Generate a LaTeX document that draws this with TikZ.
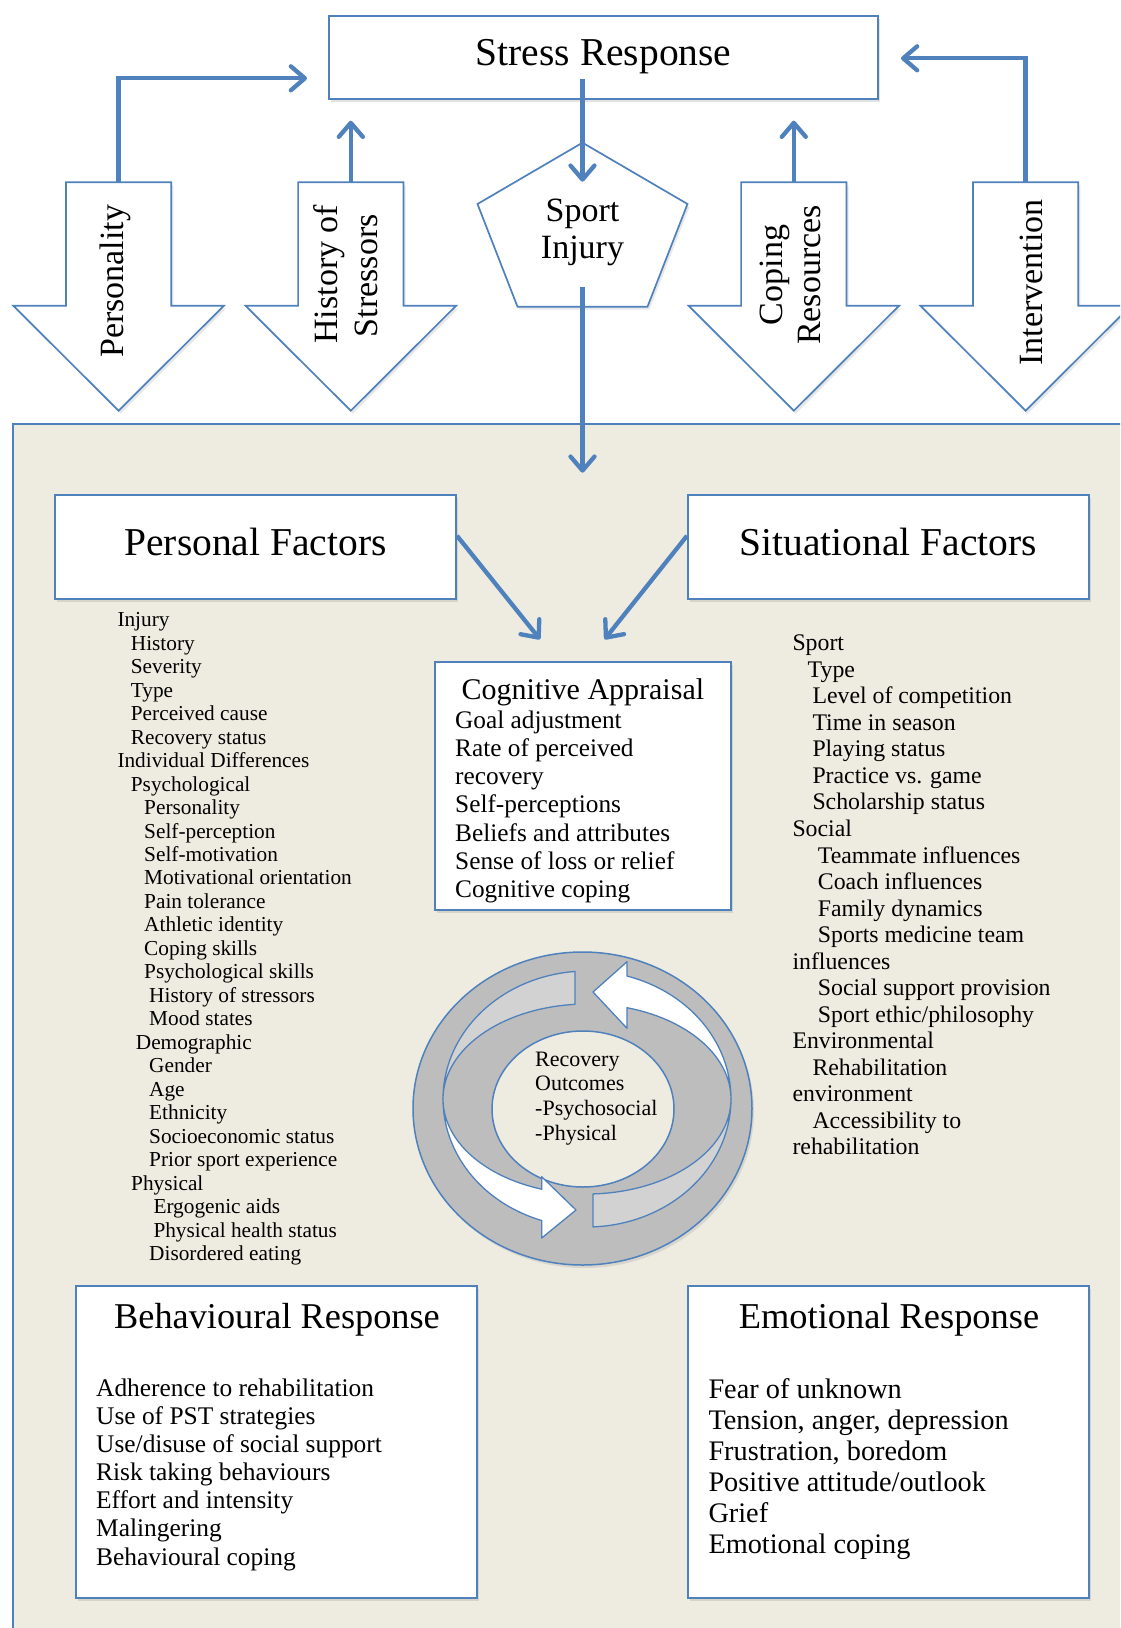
\documentclass[tikz,border=0pt]{standalone}
\usepackage{fontspec}
\setmainfont{Liberation Serif}
\usetikzlibrary{arrows.meta,shadows,calc,shapes.geometric}

\definecolor{lineblue}{HTML}{4F81BD}
\definecolor{panelbg}{HTML}{EEECE1}
\definecolor{ringgrey}{HTML}{BDBDBD}
\definecolor{ribbongrey}{HTML}{D2D2D2}

\begin{document}
\begin{tikzpicture}[x=1pt,y=-1pt,
  box/.style={draw=lineblue, line width=2pt, fill=white, inner sep=0pt,
    drop shadow={shadow xshift=2pt, shadow yshift=-3pt, opacity=0.22}},
  blockarrow/.style={draw=lineblue, line width=1.7pt, fill=white, line join=miter,
    drop shadow={shadow xshift=2pt, shadow yshift=-3pt, opacity=0.18}},
  conn/.style={draw=lineblue, line width=4.3pt, line join=miter,
    -{Straight Barb[length=14pt, width=24pt, round]}},
  ribbon/.style={draw=lineblue, line width=1.3pt, line join=round},
  txt/.style={inner sep=0pt, anchor=base west},
  rot/.style={inner sep=0pt, rotate=90, anchor=base, font=\fontsize{34}{40}\selectfont},
  ftitle/.style={font=\fontsize{39.5}{47}\selectfont},
  fleft/.style={font=\fontsize{21.3}{25}\selectfont},
  fright/.style={font=\fontsize{23.8}{28}\selectfont},
  fcog/.style={font=\fontsize{25.3}{30}\selectfont},
]
\clip (0,0) rectangle (1120,1628);
\fill[white] (0,0) rectangle (1120,1628);

% ---------- lower panel ----------
\draw[draw=lineblue, line width=2pt, fill=panelbg] (13,424) rectangle (1150,1660);

% ---------- stress response box ----------
\node[box, minimum width=549pt, minimum height=83.3pt] (stress) at (603.5,57.35) {};
\node[txt, anchor=base, ftitle] (stress-t) at (603.6,65) {Stress Response};

% ---------- block arrows ----------
\foreach \c/\n in {118.6/pers, 350.8/hist, 793.8/cope, 1025.6/inter}{
  \draw[blockarrow] ({\c-52.7},182.3) -- ({\c+52.7},182.3) -- ({\c+52.7},305.7)
     -- ({\c+105.3},305.7) -- (\c,410.7) -- ({\c-105.3},305.7) -- ({\c-52.7},305.7) -- cycle;
  \coordinate (\n-top) at (\c,182.3);
}
\node[rot] (pers-t) at (123.2,281.2) {Personality};
\node[rot] (hist-t1) at (337.5,274.2) {History of};
\node[rot] (hist-t2) at (377,275.8) {Stressors};
\node[rot] (cope-t1) at (782,275) {Coping};
\node[rot] (cope-t2) at (820.7,275) {Resources};
\node[rot] (inter-t) at (1042,282.5) {Intervention};

% ---------- sport injury pentagon ----------
\draw[blockarrow] (582.5,142.7) -- (687.5,204) -- (647.5,306.7) -- (517.5,306.7)
   -- (477.5,204) -- cycle;
\node[txt, anchor=base, font=\fontsize{34}{40}\selectfont] (inj-t1) at (582.5,221.7) {Sport};
\node[txt, anchor=base, font=\fontsize{34}{40}\selectfont] (inj-t2) at (582.5,258.3) {Injury};

% ---------- connector end points ----------
\coordinate (stress-inl) at (307,78.3);
\coordinate (stress-inr) at (901,58.3);
\coordinate (hist-up) at (350.8,120.7);
\coordinate (cope-up) at (793.8,120.7);
\coordinate (stress-out) at (582.5,79);
\coordinate (inj-in) at (582.5,181.7);
\coordinate (inj-out) at (582.5,287.3);
\coordinate (panel-in) at (582.5,472.7);

\draw[conn] (pers-top) |- (stress-inl);
\draw[conn] (hist-top) -- (hist-up);
\draw[conn] (cope-top) -- (cope-up);
\draw[conn] (inter-top) |- (stress-inr);
\draw[conn] (stress-out) -- (inj-in);
\draw[conn] (inj-out) -- (panel-in);

% ---------- factor boxes ----------
\node[box, minimum width=401pt, minimum height=104pt] (pf) at (255.5,547) {};
\node[txt, anchor=base, ftitle] (pf-t) at (255.5,555) {Personal Factors};
\node[box, minimum width=401pt, minimum height=104pt] (sf) at (888.5,547) {};
\node[txt, anchor=base, ftitle] (sf-t) at (888.3,555) {Situational Factors};

% ---------- cognitive appraisal ----------
\node[box, minimum width=295.7pt, minimum height=248.3pt] (cog) at (582.9,785.9) {};
\node[txt, anchor=base, font=\fontsize{30}{36}\selectfont] (cog-t) at (582.9,699) {Cognitive Appraisal};
\foreach \t [count=\i from 0] in {Goal adjustment, Rate of perceived, recovery,
    Self-perceptions, Beliefs and attributes, Sense of loss or relief, Cognitive coping}{
  \node[txt, fcog] (cg\i) at (455,{728+\i*28.3}) {\t};
}
\coordinate (cog-in1) at (540,639.3);
\coordinate (cog-in2) at (604.6,639.3);
\draw[conn] ($(pf.north east)!0.394!(pf.south east)$) -- (cog-in1);
\draw[conn] ($(sf.north west)!0.394!(sf.south west)$) -- (cog-in2);

% ---------- personal factor list ----------
\foreach \xx/\t [count=\i from 0] in {117.3/Injury, 130.7/History, 130.7/Severity,
    130.7/Type, 130.7/Perceived cause, 130.7/Recovery status,
    117.3/Individual Differences, 130.7/Psychological, 144/Personality,
    144/Self-perception, 144/Self-motivation, 144/Motivational orientation,
    144/Pain tolerance, 144/Athletic identity, 144/Coping skills,
    144/Psychological skills, 149/History of stressors, 149/Mood states,
    135.7/Demographic, 149/Gender, 149/Age, 149/Ethnicity,
    149/Socioeconomic status, 149/Prior sport experience, 131/Physical,
    153.3/Ergogenic aids, 153.3/Physical health status, 149/Disordered eating}{
  \node[txt, fleft] (pl\i) at (\xx,{626.7+\i*23.48}) {\t};
}

% ---------- situational factor list ----------
\foreach \xx/\t [count=\i from 0] in {792.3/Sport, 807.5/Type,
    812.3/Level of competition, 812.3/Time in season, 812.3/Playing status,
    812.3/Practice vs. game, 812.3/Scholarship status, 792.3/Social,
    817.7/Teammate influences, 817.7/Coach influences, 817.7/Family dynamics,
    817.7/Sports medicine team, 792.3/influences, 817.7/Social support provision,
    817.7/{Sport ethic/philosophy}, 792.3/Environmental, 812.3/Rehabilitation,
    792.3/environment, 812.3/Accessibility to, 792.3/rehabilitation}{
  \node[txt, fright] (sl\i) at (\xx,{650.7+\i*26.54}) {\t};
}

% ---------- recovery cycle ----------
\draw[draw=lineblue, line width=1.5pt, fill=ringgrey,
  drop shadow={shadow xshift=2pt, shadow yshift=-3pt, opacity=0.2}]
  (582.5,1108.5) ellipse [x radius=169.5pt, y radius=156.5pt];
\node[draw=lineblue, line width=1.5pt, fill=panelbg, ellipse, minimum width=182pt,
  minimum height=156pt, inner sep=0pt] (rec) at (583,1109) {};
% back halves of the cycle ribbon
\draw[ribbon, fill=ribbongrey]
  plot[domain=94.8:180, samples=40] ({587+144*cos(\x)},{1099-128*sin(\x)})
  -- plot[domain=180:94.8, samples=40] ({587+144*cos(\x)},{1099-95*sin(\x)}) -- cycle;
\draw[ribbon, fill=ribbongrey]
  plot[domain=-87.6:0, samples=40] ({587+144*cos(\x)},{1099-128*sin(\x)})
  -- plot[domain=0:-87.6, samples=40] ({587+144*cos(\x)},{1099-95*sin(\x)}) -- cycle;
% front halves with arrow heads
\draw[ribbon, fill=white]
  plot[domain=0:73.87, samples=40] ({587+144*cos(\x)},{1099-128*sin(\x)})
  -- (627,961.7) -- (593,992) -- (627,1028.3)
  -- plot[domain=73.87:0, samples=40] ({587+144*cos(\x)},{1099-95*sin(\x)}) -- cycle;
\draw[ribbon, fill=white]
  plot[domain=180:251.66, samples=40] ({587+144*cos(\x)},{1099-128*sin(\x)})
  -- (541.7,1238) -- (576,1210) -- (541.7,1176.7)
  -- plot[domain=251.66:180, samples=40] ({587+144*cos(\x)},{1099-95*sin(\x)}) -- cycle;
\foreach \t [count=\i from 0] in {Recovery, Outcomes, -Psychosocial, -Physical}{
  \node[txt, font=\fontsize{22}{26}\selectfont] (rc\i) at (535,{1066+\i*24.7}) {\t};
}

% ---------- response boxes ----------
\node[box, minimum width=401.3pt, minimum height=312pt] (beh) at (276.7,1441.7) {};
\node[txt, anchor=base, font=\fontsize{36.3}{43}\selectfont] (beh-t) at (277,1328.3) {Behavioural Response};
\foreach \t [count=\i from 0] in {Adherence to rehabilitation, Use of PST strategies,
    {Use/disuse of social support}, Risk taking behaviours, Effort and intensity,
    Malingering, Behavioural coping}{
  \node[txt, font=\fontsize{25.4}{30}\selectfont] (bh\i) at (96,{1396.7+\i*28.05}) {\t};
}

\node[box, minimum width=400.7pt, minimum height=312pt] (emo) at (888.7,1441.7) {};
\node[txt, anchor=base, font=\fontsize{36.4}{43}\selectfont] (emo-t) at (889,1328.3) {Emotional Response};
\foreach \t [count=\i from 0] in {Fear of unknown, {Tension, anger, depression},
    {Frustration, boredom}, {Positive attitude/outlook}, Grief, Emotional coping}{
  \node[txt, font=\fontsize{28.3}{33}\selectfont] (em\i) at (708.3,{1398.3+\i*31.1}) {\t};
}
\end{tikzpicture}
\end{document}
